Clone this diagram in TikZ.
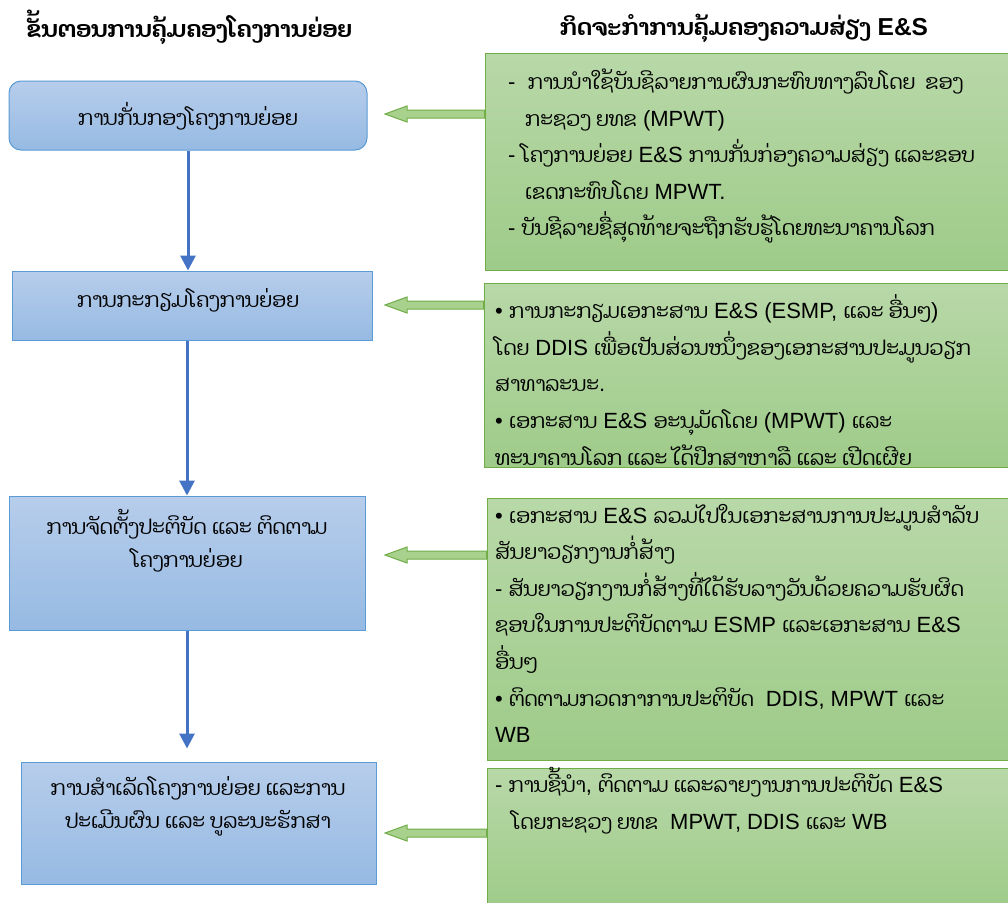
\documentclass[tikz,border=0pt]{standalone}
\usepackage{fontspec}
\setmainfont{Liberation Sans}
\newfontfamily\laof[Script=Lao,Scale=0.93]{Dhyana}
\usetikzlibrary{arrows.meta,calc}
\newcommand\lo[1]{{\laof #1}}
\definecolor{bbord}{RGB}{91,155,213}
\definecolor{btop}{RGB}{183,205,235}
\definecolor{bbot}{RGB}{150,186,227}
\definecolor{gbord}{RGB}{112,173,71}
\definecolor{gtop}{RGB}{184,216,168}
\definecolor{gbot}{RGB}{158,203,137}
\definecolor{garfill}{RGB}{169,209,142}
\definecolor{barcol}{RGB}{68,114,196}
\tikzset{
  bluebox/.style={draw=bbord, line width=1pt, top color=btop, bottom color=bbot, inner sep=0pt},
  greenbox/.style={draw=gbord, line width=1pt, top color=gtop, bottom color=gbot, inner sep=0pt},
  lefttext/.style={font={\laof\fontsize{22}{33}\selectfont}, align=center, inner sep=0pt},
  righttext/.style={font={\fontsize{22}{36.6}\selectfont}, align=left, inner sep=0pt, anchor=base west},
  headtext/.style={font={\bfseries\fontsize{24.5}{28}\selectfont}, inner sep=0pt, anchor=base},
  downarrow/.style={draw=barcol, line width=3pt, -{Triangle[length=15pt,width=15pt]}},
  greenarrow/.style={draw=gbord, line width=1pt, fill=garfill, line join=miter}
}
\newcommand\greenarr[2]{%
  \draw[greenarrow] let \p1=(#1), \p2=(#2) in
    (\x1,\y2+4pt) -- (\x2+22pt,\y2+4pt) -- (\x2+22pt,\y2+8pt) -- (\x2,\y2)
    -- (\x2+22pt,\y2-8pt) -- (\x2+22pt,\y2-4pt) -- (\x1,\y2-4pt) -- cycle;}
\begin{document}
\begin{tikzpicture}[x=1pt,y=-1pt]
\useasboundingbox (0,0) rectangle (1008,902);
\fill[white] (0,0) rectangle (1008,902);

% headers
\node[headtext] (h1) at (189,37) {\lo{ຂັ້ນຕອນການຄຸ້ມຄອງໂຄງການຍ່ອຍ}};
\node[headtext] (h2) at (744,35) {\lo{ກິດຈະກຳການຄຸ້ມຄອງຄວາມສ່ຽງ} E\&S};

% green arrow tips
\coordinate (t1) at (385,114);
\coordinate (t2) at (385,305);
\coordinate (t3) at (385,555);
\coordinate (t4) at (385,833);

% green boxes
\node[greenbox, minimum width=527pt, minimum height=217pt] (g1) at (748.5,161.5) {};
\node[greenbox, minimum width=528pt, minimum height=184pt] (g2) at (748,375) {};
\node[greenbox, minimum width=525pt, minimum height=262pt] (g3) at (749.5,629) {};
\node[greenbox, minimum width=525pt, minimum height=142pt] (g4) at (749.5,839) {};

\greenarr{g1.west}{t1}
\greenarr{g2.west}{t2}
\greenarr{g3.west}{t3}
\greenarr{g4.west}{t4}

% blue boxes
\node[bluebox, rounded corners=12pt, minimum width=358pt, minimum height=69pt] (b1) at (188,115.5) {};
\node[bluebox, minimum width=360pt, minimum height=69pt] (b2) at (192,305.5) {};
\node[bluebox, minimum width=356pt, minimum height=134pt] (b3) at (187,563) {};
\node[bluebox, minimum width=355pt, minimum height=122pt] (b4) at (198.5,823) {};

\node[lefttext] (b1t) at (188,116) {ການກັ່ນກອງໂຄງການຍ່ອຍ};
\node[lefttext] (b2t) at (188,300) {ການກະກຽມໂຄງການຍ່ອຍ};
\node[lefttext] (b3t) at (187,541) {ການຈັດຕັ້ງປະຕິບັດ ແລະ ຕິດຕາມ\\ໂຄງການຍ່ອຍ};
\node[lefttext] (b4t) at (198,806) {ການສຳເລັດໂຄງການຍ່ອຍ ແລະການ\\ປະເມີນຜົນ ແລະ ບູລະນະຮັກສາ};

% blue arrows
\draw[downarrow] (b1.south) -- (b1.south |- b2.north);
\draw[downarrow] (b2.south -| b3.north) -- (b3.north);
\draw[downarrow, shorten >=13pt] (b3.south) -- (b3.south |- b4.north);

% green texts (anchor = baseline of the last line)
\node[righttext] (g1t) at (508,235.9) {- \ \lo{ການນຳໃຊ້ບັນຊີລາຍການຜົນກະທົບທາງລົບໂດຍ\ \ ຂອງ}\\
\hspace*{17pt}\lo{ກະຊວງ ຍທຂ} (MPWT)\\
- \lo{ໂຄງການຍ່ອຍ} E\&S \lo{ການກັ່ນກ່ອງຄວາມສ່ຽງ ແລະຂອບ}\\
\hspace*{17pt}\lo{ເຂດກະທົບໂດຍ} MPWT.\\
- \lo{ບັນຊີລາຍຊື່ສຸດທ້າຍຈະຖືກຮັບຮູ້ໂດຍທະນາຄານໂລກ}};

\node[righttext] (g2t) at (495,465) {• \lo{ການກະກຽມເອກະສານ} E\&S (ESMP, \lo{ແລະ ອື່ນໆ})\\
\lo{ໂດຍ} DDIS \lo{ເພື່ອເປັນສ່ວນໜຶ່ງຂອງເອກະສານປະມູນວຽກ}\\
\lo{ສາທາລະນະ}.\\
• \lo{ເອກະສານ} E\&S \lo{ອະນຸມັດໂດຍ} (MPWT) \lo{ແລະ}\\
\lo{ທະນາຄານໂລກ ແລະ ໄດ້ປຶກສາຫາລື ແລະ ເປີດເຜີຍ}};

\node[righttext] (g3t) at (495,742.6) {• \lo{ເອກະສານ} E\&S \lo{ລວມໄປໃນເອກະສານການປະມູນສຳລັບ}\\
\lo{ສັນຍາວຽກງານກໍ່ສ້າງ}\\
- \lo{ສັນຍາວຽກງານກໍ່ສ້າງທີ່ໄດ້ຮັບລາງວັນດ້ວຍຄວາມຮັບຜິດ}\\
\lo{ຊອບໃນການປະຕິບັດຕາມ} ESMP \lo{ແລະເອກະສານ} E\&S\\
\lo{ອື່ນໆ}\\
• \lo{ຕິດຕາມກວດກາການປະຕິບັດ}\ \ DDIS, MPWT \lo{ແລະ}\\
WB};

\node[righttext] (g4t) at (495,829) {- \lo{ການຊີ້ນຳ}, \lo{ຕິດຕາມ ແລະລາຍງານການປະຕິບັດ} E\&S\\
\hspace*{17pt}\lo{ໂດຍກະຊວງ ຍທຂ}\ \ MPWT, DDIS \lo{ແລະ} WB};
\end{tikzpicture}
\end{document}
